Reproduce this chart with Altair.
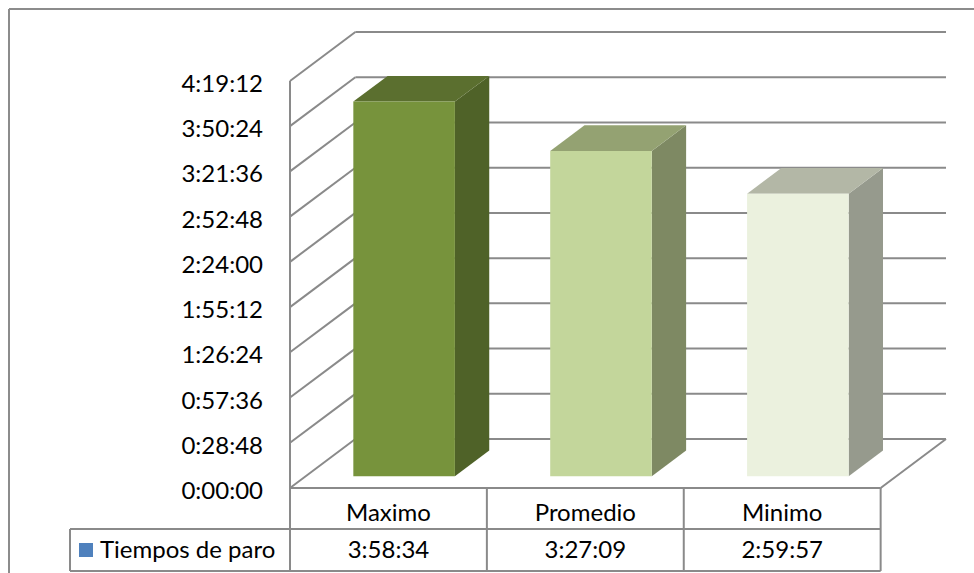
import altair as alt
import pandas as pd

# ---- data ----
categories = ["Maximo", "Promedio", "Minimo"]
tiempos = ["3:58:34", "3:27:09", "2:59:57"]
series_name = "Tiempos de paro"
tick_labels = ["0:00:00", "0:28:48", "0:57:36", "1:26:24", "1:55:12",
               "2:24:00", "2:52:48", "3:21:36", "3:50:24", "4:19:12"]
front_colors = ["#77933C", "#C3D69B", "#EBF1DE"]
top_colors = ["#5B6F2F", "#94A272", "#B3B7A6"]
side_colors = ["#4F6228", "#7E8963", "#969A8D"]


def to_sec(s):
    h, m, sec = (int(p) for p in s.split(":"))
    return h * 3600 + m * 60 + sec


values = [to_sec(t) for t in tiempos]
ticks = [to_sec(t) for t in tick_labels]

# ---- 3D projection constants (style) ----
DEPTH_X = 0.332      # category units
DEPTH_Y = 1870       # seconds
BAR_FRONT = 0.24     # depth fraction of bar front face
BAR_BACK = 0.765     # depth fraction of bar back face
BAR_HALF = 0.258     # half bar width, category units
N = len(categories)
YMAX = ticks[-1]

W, H = 656, 456
PAD_L, PAD_T = 290, 32
X_RIGHT_PX = N / (N + DEPTH_X) * W  # pixel of table right edge
FONT = "Lato"
FS = 24

xs = alt.Scale(domain=[0, N + DEPTH_X], nice=False, zero=False)
ys = alt.Scale(domain=[0, YMAX + DEPTH_Y], nice=False, zero=False)
GRID = "#8A8A8A"

# back wall gridlines
back = pd.DataFrame({"x": [DEPTH_X] * len(ticks), "x2": [N + DEPTH_X] * len(ticks),
                     "y": [t + DEPTH_Y for t in ticks]})
back_rules = alt.Chart(back).mark_rule(color=GRID, strokeWidth=2).encode(
    x=alt.X("x:Q", scale=xs, axis=None), x2="x2:Q",
    y=alt.Y("y:Q", scale=ys, axis=None))

# side wall diagonals
side = pd.DataFrame({"x": [0] * len(ticks), "x2": [DEPTH_X] * len(ticks),
                     "y": ticks, "y2": [t + DEPTH_Y for t in ticks]})
side_rules = alt.Chart(side).mark_rule(color=GRID, strokeWidth=2).encode(
    x=alt.X("x:Q", scale=xs), x2="x2:Q",
    y=alt.Y("y:Q", scale=ys), y2="y2:Q")

# floor: front edge, right diagonal, front-left vertical axis edge
floor = pd.DataFrame({
    "x": [0, N, 0], "x2": [N, N + DEPTH_X, 0],
    "y": [0, 0, 0], "y2": [0, DEPTH_Y, YMAX]})
floor_rules = alt.Chart(floor).mark_rule(color=GRID, strokeWidth=2).encode(
    x=alt.X("x:Q", scale=xs), x2="x2:Q",
    y=alt.Y("y:Q", scale=ys), y2="y2:Q")

# y axis labels (front axis)
axis_df = pd.DataFrame({"v": ticks, "lab": tick_labels})
axis_text = alt.Chart(axis_df).mark_text(
    align="right", baseline="middle", font=FONT, fontSize=FS, color="#000000",
    dx=-27, dy=4).encode(
    x=alt.value(0), y=alt.Y("v:Q", scale=ys), text="lab:N")

# bars (front faces as rects, side and top faces as area polygons)
bar_layers = []
fronts = []
fx, fy = BAR_FRONT * DEPTH_X, BAR_FRONT * DEPTH_Y
bx, by = BAR_BACK * DEPTH_X, BAR_BACK * DEPTH_Y
for i, (c, v) in enumerate(zip(categories, values)):
    cx = i + 0.5
    fronts.append({"c": c, "x": cx - BAR_HALF + fx, "x2": cx + BAR_HALF + fx,
                   "y": fy, "y2": v + fy, "col": front_colors[i]})
    side_df = pd.DataFrame({
        "sx": [cx + BAR_HALF + fx, cx + BAR_HALF + bx],
        "sy": [fy, by], "sy2": [v + fy, v + by]})
    bar_layers.append(
        alt.Chart(side_df).mark_area(color=side_colors[i], opacity=1).encode(
            x=alt.X("sx:Q", scale=xs),
            y=alt.Y("sy:Q", scale=ys, stack=None), y2="sy2:Q"))
    top_df = pd.DataFrame({
        "ty": [v + fy, v + by],
        "tx": [cx - BAR_HALF + fx, cx - BAR_HALF + bx],
        "tx2": [cx + BAR_HALF + fx, cx + BAR_HALF + bx]})
    bar_layers.append(
        alt.Chart(top_df).mark_area(color=top_colors[i], opacity=1, orient="horizontal").encode(
            y=alt.Y("ty:Q", scale=ys),
            x=alt.X("tx:Q", scale=xs, stack=None), x2="tx2:Q"))

front_layer = alt.Chart(pd.DataFrame(fronts)).mark_rect().encode(
    x=alt.X("x:Q", scale=xs), x2="x2:Q",
    y=alt.Y("y:Q", scale=ys), y2="y2:Q",
    color=alt.Color("col:N", scale=None))

# data table
TBL = "#8A8A8A"
ROW1 = H            # pixel y of header top (floor front edge)
ROW2 = H + 41
ROW3 = H + 83
one = pd.DataFrame({"a": [0]})
cells = pd.DataFrame({"x": [i for i in range(N + 1)]})
vlines = alt.Chart(cells).mark_rule(color=TBL, strokeWidth=2).encode(
    x=alt.X("x:Q", scale=xs), y=alt.value(ROW1), y2=alt.value(ROW3))
hline2 = alt.Chart(one).mark_rule(color=TBL, strokeWidth=2).encode(
    x=alt.value(-220), x2=alt.value(X_RIGHT_PX), y=alt.value(ROW2))
hline3 = alt.Chart(one).mark_rule(color=TBL, strokeWidth=2).encode(
    x=alt.value(-220), x2=alt.value(X_RIGHT_PX), y=alt.value(ROW3))
legend_box = alt.Chart(one).mark_rule(color=TBL, strokeWidth=2).encode(
    x=alt.value(-220), y=alt.value(ROW2), y2=alt.value(ROW3))

tbl_df = pd.DataFrame({"xc": [i + 0.5 for i in range(N)], "cat": categories, "val": tiempos})
cat_text = alt.Chart(tbl_df).mark_text(font=FONT, fontSize=FS, color="#000000",
                                       baseline="middle").encode(
    x=alt.X("xc:Q", scale=xs), y=alt.value(ROW1 + 26), text="cat:N")
val_text = alt.Chart(tbl_df).mark_text(font=FONT, fontSize=FS, color="#000000",
                                       baseline="middle").encode(
    x=alt.X("xc:Q", scale=xs), y=alt.value(ROW2 + 22), text="val:N")

swatch = alt.Chart(one).mark_square(size=196, color="#4F81BD", opacity=1).encode(
    x=alt.value(-204), y=alt.value(ROW2 + 21))
series_text = alt.Chart(pd.DataFrame({"t": [series_name]})).mark_text(
    font=FONT, fontSize=FS, color="#000000", align="left", baseline="middle").encode(
    x=alt.value(-190), y=alt.value(ROW2 + 22), text="t:N")

# outer chart border (cut off right and bottom)
border = alt.Chart(one).mark_rule(color="#8C8C8C", strokeWidth=2).encode(
    x=alt.value(9 - PAD_L), y=alt.value(9 - PAD_T), y2=alt.value(600))
border_top = alt.Chart(one).mark_rule(color="#8C8C8C", strokeWidth=2).encode(
    x=alt.value(9 - PAD_L), x2=alt.value(800), y=alt.value(9 - PAD_T))

chart = alt.layer(
    border, border_top,
    back_rules, side_rules, floor_rules, axis_text,
    *bar_layers, front_layer,
    vlines, hline2, hline3, legend_box, cat_text, val_text, swatch, series_text,
).properties(
    width=W, height=H,
    autosize=alt.AutoSizeParams(type="none"),
    padding={"left": PAD_L, "top": PAD_T, "right": 974 - PAD_L - W, "bottom": 573 - PAD_T - H},
    background="white",
).configure_view(stroke=None)

chart.save("out.html", embed_options={"renderer": "svg", "actions": False})
